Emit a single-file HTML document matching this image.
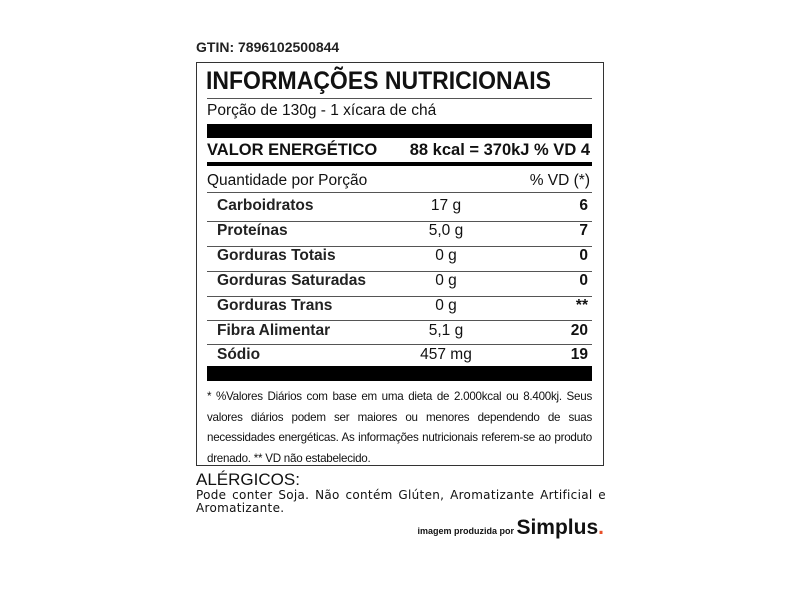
<!DOCTYPE html>
<html><head><meta charset="utf-8"><style>
body{margin:0;width:800px;height:600px;background:#fff;position:relative;font-family:"Liberation Sans",sans-serif;color:#111;overflow:hidden}
.a{position:absolute;white-space:nowrap}
.box{position:absolute;left:196px;top:62px;width:406px;height:402px;border:1.5px solid #333}
.hl{position:absolute;left:207px;width:385px;background:#555;height:1px}
.b{font-weight:bold}
.lab{left:217px;font-size:15.5px;font-weight:bold;color:#222}
.mid{left:396px;width:100px;text-align:center;font-size:15.5px}
.r{right:212px;text-align:right;font-size:15.5px;font-weight:bold}
</style></head><body>
<div class="a" style="left:196px;top:39px;font-size:14px;font-weight:bold;color:#222">GTIN: 7896102500844</div>
<div class="box"></div>
<div class="a b" style="left:206px;top:67px;font-size:25px;transform:scaleX(0.92);transform-origin:left">INFORMAÇÕES NUTRICIONAIS</div>
<div class="hl" style="top:98px"></div>
<div class="a" style="left:207px;top:102px;font-size:15.5px">Porção de 130g - 1 xícara de chá</div>
<div class="a" style="left:207px;top:124px;width:385px;height:14px;background:#000"></div>
<div class="a b" style="left:207px;top:141px;font-size:16.5px">VALOR ENERGÉTICO</div>
<div class="a b" style="right:210px;top:141px;font-size:16.5px">88 kcal = 370kJ % VD 4</div>
<div class="a" style="left:207px;top:162px;width:385px;height:4px;background:#000"></div>
<div class="a" style="left:207px;top:172px;font-size:15.5px">Quantidade por Porção</div>
<div class="a" style="right:210px;top:172px;font-size:15.5px">% VD (*)</div>
<div class="hl" style="top:192px"></div>
<div class="a lab" style="top:197px">Carboidratos</div><div class="a mid" style="top:197px">17 g</div><div class="a r" style="top:197px">6</div>
<div class="hl" style="top:221px"></div>
<div class="a lab" style="top:222px">Proteínas</div><div class="a mid" style="top:222px">5,0 g</div><div class="a r" style="top:222px">7</div>
<div class="hl" style="top:246px"></div>
<div class="a lab" style="top:247px">Gorduras Totais</div><div class="a mid" style="top:247px">0 g</div><div class="a r" style="top:247px">0</div>
<div class="hl" style="top:271px"></div>
<div class="a lab" style="top:272px">Gorduras Saturadas</div><div class="a mid" style="top:272px">0 g</div><div class="a r" style="top:272px">0</div>
<div class="hl" style="top:296px"></div>
<div class="a lab" style="top:297px">Gorduras Trans</div><div class="a mid" style="top:297px">0 g</div><div class="a r" style="top:297px">**</div>
<div class="hl" style="top:320px"></div>
<div class="a lab" style="top:322px">Fibra Alimentar</div><div class="a mid" style="top:322px">5,1 g</div><div class="a r" style="top:322px">20</div>
<div class="hl" style="top:344px"></div>
<div class="a lab" style="top:346px">Sódio</div><div class="a mid" style="top:346px">457 mg</div><div class="a r" style="top:346px">19</div>
<div class="a" style="left:207px;top:366px;width:385px;height:15px;background:#000"></div>
<div class="a" style="left:207px;top:387px;width:385px;font-size:11.6px;line-height:20.5px;white-space:normal;text-align:justify;letter-spacing:-0.25px">* %Valores Diários com base em uma dieta de 2.000kcal ou 8.400kj. Seus valores diários podem ser maiores ou menores dependendo de suas necessidades energéticas. As informações nutricionais referem-se ao produto drenado. ** VD não estabelecido.</div>
<div class="a" style="left:196px;top:470px;font-size:17px;color:#111">ALÉRGICOS:</div>
<div class="a" style="left:196px;top:489px;width:410px;font-size:12px;line-height:13px;font-family:'DejaVu Sans',sans-serif;white-space:normal;text-align:justify;letter-spacing:0.3px">Pode conter Soja. Não contém Glúten, Aromatizante Artificial e Aromatizante.</div>
<div class="a" style="right:196px;top:516px"><span style="font-size:9px;font-weight:bold">imagem produzida por </span><span style="font-size:21px;font-weight:bold">Simplus</span><span style="font-size:21px;font-weight:bold;color:#e8502a">.</span></div>
</body></html>
